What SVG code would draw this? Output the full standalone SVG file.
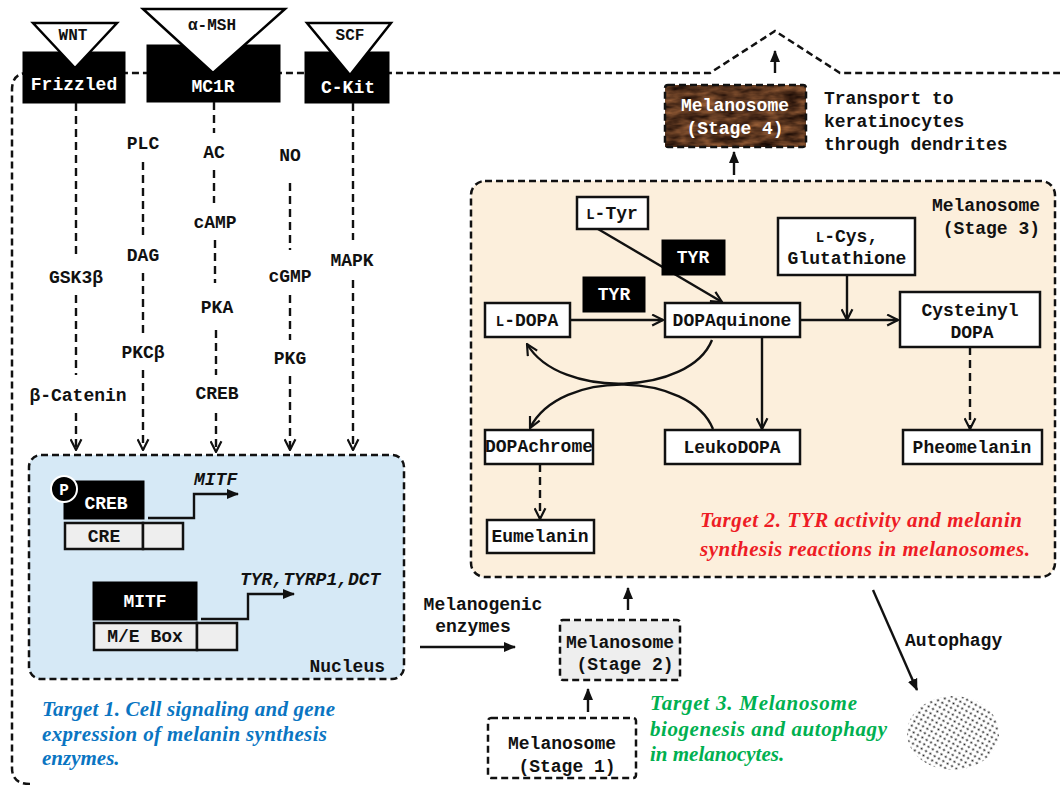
<svg xmlns="http://www.w3.org/2000/svg" width="1060" height="785" viewBox="0 0 1060 785">
<style>
  text { font-family: "Liberation Mono", "DejaVu Sans Mono", monospace; font-weight: bold; font-size: 18px; fill: #111; }
  .c { text-anchor: middle; }
  .w { fill: #fff; }
  .it { font-style: italic; }
  .tg { font-family: "Liberation Serif", "DejaVu Serif", serif; font-style: italic; font-size: 21px; }
  .box { fill: #fff; stroke: #111; stroke-width: 2.5; }
  .blk { fill: #000; stroke: #000; stroke-width: 1; }
  .grey { fill: #eee; stroke: #111; stroke-width: 2.5; }
  .dbox { stroke: #111; stroke-width: 2.5; stroke-dasharray: 7 4; }
  .sig { fill: none; stroke: #111; stroke-width: 2.4; stroke-dasharray: 8 5; }
  .ln { fill: none; stroke: #111; stroke-width: 2.4; }
  .tri { fill: #fff; stroke: #000; stroke-width: 2.5; }
</style>
<defs>
  <marker id="open" viewBox="0 0 12 12" refX="11" refY="6" markerWidth="13" markerHeight="13" markerUnits="userSpaceOnUse" orient="auto">
    <path d="M1,1 L11,6 L1,11" fill="none" stroke="#111" stroke-width="2"/>
  </marker>
  <marker id="fill" viewBox="0 0 12 12" refX="11" refY="6" markerWidth="12" markerHeight="12" markerUnits="userSpaceOnUse" orient="auto">
    <path d="M0,1 L12,6 L0,11 Z" fill="#111"/>
  </marker>
  <filter id="bark" x="0" y="0" width="1" height="1" color-interpolation-filters="sRGB">
    <feTurbulence type="fractalNoise" baseFrequency="0.05 0.14" numOctaves="3" seed="4" result="n"/>
    <feColorMatrix in="n" type="matrix" values="0.75 0 0 0 -0.02  0.5 0 0 0 -0.04  0.3 0 0 0 -0.03  0 0 0 0 1" result="c"/>
    <feComposite in="c" in2="SourceGraphic" operator="in"/>
  </filter>
  <pattern id="dots" width="5" height="5" patternUnits="userSpaceOnUse" patternTransform="rotate(30)">
    <circle cx="2.5" cy="2.5" r="1.1" fill="#222"/>
  </pattern>
</defs>

<!-- cell outline -->
<path class="dbox" fill="none" d="M30 784 Q12 784 12 768 V90 Q12 73 28 73 H710 L775 31 L840 73 H1060"/>

<!-- melanosome stage 3 (background) -->
<g id="stage3">
  <rect class="dbox" fill="#fcefdc" x="471" y="181" width="584" height="396" rx="14"/>
  <text x="1040" y="211" text-anchor="end">Melanosome</text>
  <text x="1040" y="234" text-anchor="end">(Stage 3)</text>
</g>

<!-- nucleus (background) -->
<g id="nucleus">
  <rect class="dbox" fill="#d6e9f6" x="29" y="455" width="375" height="224" rx="12"/>
  <text x="385" y="672" text-anchor="end">Nucleus</text>
</g>

<!-- receptors -->
<g id="frizzled">
  <rect class="blk" x="23" y="52" width="102" height="51"/>
  <polygon class="tri" points="33,23 117,23 75,68"/>
  <text class="c" x="73" y="40" style="font-size:16px">WNT</text>
  <text class="c w" x="74" y="90">Frizzled</text>
</g>
<g id="mc1r">
  <rect class="blk" x="147" y="45" width="133" height="57"/>
  <polygon class="tri" points="143,9 285,9 213,73"/>
  <text class="c" x="212" y="30" style="font-size:16px">α-MSH</text>
  <text class="c w" x="213" y="92">MC1R</text>
</g>
<g id="ckit">
  <rect class="blk" x="305" y="52" width="84" height="51"/>
  <polygon class="tri" points="307,23 391,23 350,75"/>
  <text class="c" x="350" y="40" style="font-size:16px">SCF</text>
  <text class="c w" x="348" y="93">C-Kit</text>
</g>

<!-- connectors -->
<g id="connectors">
  <path class="sig" d="M76 103 V257 M76 295 V375"/>
  <path class="sig" d="M76 413 V450" marker-end="url(#open)"/>
  <path class="sig" d="M143 162 V237 M143 273 V333"/>
  <path class="sig" d="M143 370 V450" marker-end="url(#open)"/>
  <path class="sig" d="M214 102 V133 M214 170 V203 M215 240 V283 M216 330 V375"/>
  <path class="sig" d="M216 413 V452" marker-end="url(#open)"/>
  <path class="sig" d="M290 183 V250 M290 295 V340"/>
  <path class="sig" d="M290 376 V450" marker-end="url(#open)"/>
  <path class="sig" d="M353 103 V240"/>
  <path class="sig" d="M353 280 V450" marker-end="url(#open)"/>

  <path class="ln" d="M148 518 H194 V494 H238" marker-end="url(#fill)"/>
  <path class="ln" d="M201 619 H248 V594 H294" marker-end="url(#fill)"/>

  <path class="ln" d="M598 229 L722 302" marker-end="url(#open)"/>
  <path class="ln" d="M570 320 H663" marker-end="url(#open)"/>
  <path class="ln" d="M800 320 H898" marker-end="url(#open)"/>
  <path class="ln" d="M847 275 V320" marker-end="url(#open)"/>
  <path class="ln" d="M762 337 V429" marker-end="url(#open)"/>
  <path class="sig" d="M970 347 V429" marker-end="url(#open)"/>
  <path class="sig" d="M540 464 V519" marker-end="url(#open)"/>
  <path class="ln" d="M712 340 C690 395 560 400 527 344" marker-end="url(#open)"/>
  <path class="ln" d="M713 429 C690 372 560 368 530 428" marker-end="url(#open)"/>

  <path class="ln" d="M775 73 V51" marker-end="url(#fill)"/>
  <path class="ln" d="M734 175 V152" marker-end="url(#fill)"/>
  <path class="ln" d="M628 610 V588" marker-end="url(#fill)"/>
  <path class="ln" d="M588 712 V689" marker-end="url(#fill)"/>
  <path class="ln" d="M420 647 H515" marker-end="url(#fill)"/>
  <path class="ln" d="M873 590 L917 690" marker-end="url(#fill)"/>
</g>

<!-- signaling labels -->
<g id="signals">
  <text class="c" x="76" y="283">GSK3β</text>
  <text class="c" x="78" y="401">β-Catenin</text>
  <text class="c" x="143" y="149">PLC</text>
  <text class="c" x="143" y="261">DAG</text>
  <text class="c" x="143" y="358">PKCβ</text>
  <text class="c" x="214" y="158">AC</text>
  <text class="c" x="215" y="228">cAMP</text>
  <text class="c" x="217" y="313">PKA</text>
  <text class="c" x="217" y="399">CREB</text>
  <text class="c" x="290" y="161">NO</text>
  <text class="c" x="290" y="282">cGMP</text>
  <text class="c" x="290" y="364">PKG</text>
  <text class="c" x="352" y="266">MAPK</text>
</g>

<!-- nucleus contents -->
<g id="creb">
  <rect class="blk" x="64" y="481" width="80" height="38"/>
  <text class="c w" x="106" y="509">CREB</text>
  <circle cx="64" cy="489" r="13" fill="#000" stroke="#fff" stroke-width="2"/>
  <text class="c w" x="64" y="495" style="font-size:16px">P</text>
</g>
<g id="cre">
  <rect class="grey" x="65" y="523" width="78" height="26"/>
  <rect class="grey" x="143" y="523" width="40" height="26"/>
  <text class="c" x="104" y="542">CRE</text>
  <text class="it" x="194" y="485">MITF</text>
</g>
<g id="mitf">
  <rect class="blk" x="93" y="582" width="104" height="38"/>
  <text class="c w" x="145" y="607">MITF</text>
</g>
<g id="mebox">
  <rect class="grey" x="94" y="623" width="103" height="27"/>
  <rect class="grey" x="197" y="623" width="40" height="27"/>
  <text class="c" x="145" y="642">M/E Box</text>
  <text class="it" x="240" y="585">TYR,TYRP1,DCT</text>
</g>

<!-- stage 3 contents -->
<g id="ltyr">
  <rect class="box" x="577" y="197" width="71" height="32"/>
  <text class="c" x="612" y="219"><tspan style="font-size:14px">L</tspan>-Tyr</text>
</g>
<g id="tyr1">
  <rect class="blk" x="662" y="240" width="63" height="35"/>
  <text class="c w" x="693" y="263">TYR</text>
</g>
<g id="tyr2">
  <rect class="blk" x="583" y="277" width="62" height="35"/>
  <text class="c w" x="614" y="300">TYR</text>
</g>
<g id="ldopa">
  <rect class="box" x="485" y="303" width="85" height="34"/>
  <text class="c" x="527" y="326"><tspan style="font-size:14px">L</tspan>-DOPA</text>
</g>
<g id="dopaquinone">
  <rect class="box" x="665" y="303" width="135" height="34"/>
  <text class="c" x="732" y="326">DOPAquinone</text>
</g>
<g id="lcys">
  <rect class="box" x="778" y="218" width="137" height="57"/>
  <text class="c" x="847" y="242"><tspan style="font-size:14px">L</tspan>-Cys,</text>
  <text class="c" x="847" y="264">Glutathione</text>
</g>
<g id="cysteinyldopa">
  <rect class="box" x="900" y="292" width="140" height="55"/>
  <text class="c" x="970" y="316">Cysteinyl</text>
  <text class="c" x="972" y="338">DOPA</text>
</g>
<g id="dopachrome">
  <rect class="box" x="485" y="430" width="108" height="34"/>
  <text class="c" x="539" y="452">DOPAchrome</text>
</g>
<g id="leukodopa">
  <rect class="box" x="665" y="430" width="135" height="34"/>
  <text class="c" x="732" y="453">LeukoDOPA</text>
</g>
<g id="pheomelanin">
  <rect class="box" x="903" y="430" width="139" height="34"/>
  <text class="c" x="972" y="453">Pheomelanin</text>
</g>
<g id="eumelanin">
  <rect class="box" x="487" y="520" width="107" height="33"/>
  <text class="c" x="540" y="542">Eumelanin</text>
</g>
<g id="target2">
  <text class="tg" x="700" y="527" style="fill:#ee1c25" textLength="322">Target 2. TYR activity and melanin</text>
  <text class="tg" x="700" y="556" style="fill:#ee1c25" textLength="330">synthesis reactions in melanosomes.</text>
</g>

<!-- stage 4 -->
<g id="stage4">
  <rect x="665" y="85" width="141" height="62" fill="#5a341d" filter="url(#bark)"/>
  <rect class="dbox" fill="none" x="665" y="85" width="141" height="62" rx="3"/>
  <text class="c w" x="735" y="111">Melanosome</text>
  <text class="c w" x="735" y="134">(Stage 4)</text>
</g>
<g id="transport">
  <text x="824" y="104">Transport to</text>
  <text x="824" y="127">keratinocytes</text>
  <text x="824" y="150">through dendrites</text>
</g>

<!-- stage 2 / 1 -->
<g id="stage2">
  <rect class="dbox" fill="#eee" x="560" y="620" width="120" height="60" rx="3"/>
  <text class="c" x="620" y="648">Melanosome</text>
  <text class="c" x="625" y="670">(Stage 2)</text>
</g>
<g id="stage1">
  <rect class="dbox" fill="#fff" x="488" y="718" width="148" height="60" rx="3"/>
  <text class="c" x="562" y="749">Melanosome</text>
  <text class="c" x="567" y="772">(Stage 1)</text>
</g>
<g id="melanogenic">
  <text class="c" x="483" y="610">Melanogenic</text>
  <text class="c" x="473" y="632">enzymes</text>
</g>
<g id="autophagy">
  <text x="905" y="646">Autophagy</text>
  <ellipse cx="953" cy="733" rx="46" ry="37" fill="url(#dots)"/>
</g>

<!-- targets -->
<g id="target1">
  <text class="tg" x="42" y="716" style="fill:#0a75c2;font-weight:bold" textLength="293">Target 1. Cell signaling and gene</text>
  <text class="tg" x="42" y="741" style="fill:#0a75c2;font-weight:bold" textLength="285">expression of melanin synthesis</text>
  <text class="tg" x="42" y="765" style="fill:#0a75c2;font-weight:bold">enzymes.</text>
</g>
<g id="target3">
  <text class="tg" x="650" y="710" style="fill:#00b050;font-weight:bold" textLength="207">Target 3. Melanosome</text>
  <text class="tg" x="650" y="736" style="fill:#00b050;font-weight:bold" textLength="237">biogenesis and autophagy</text>
  <text class="tg" x="650" y="761" style="fill:#00b050;font-weight:bold">in melanocytes.</text>
</g>
</svg>
